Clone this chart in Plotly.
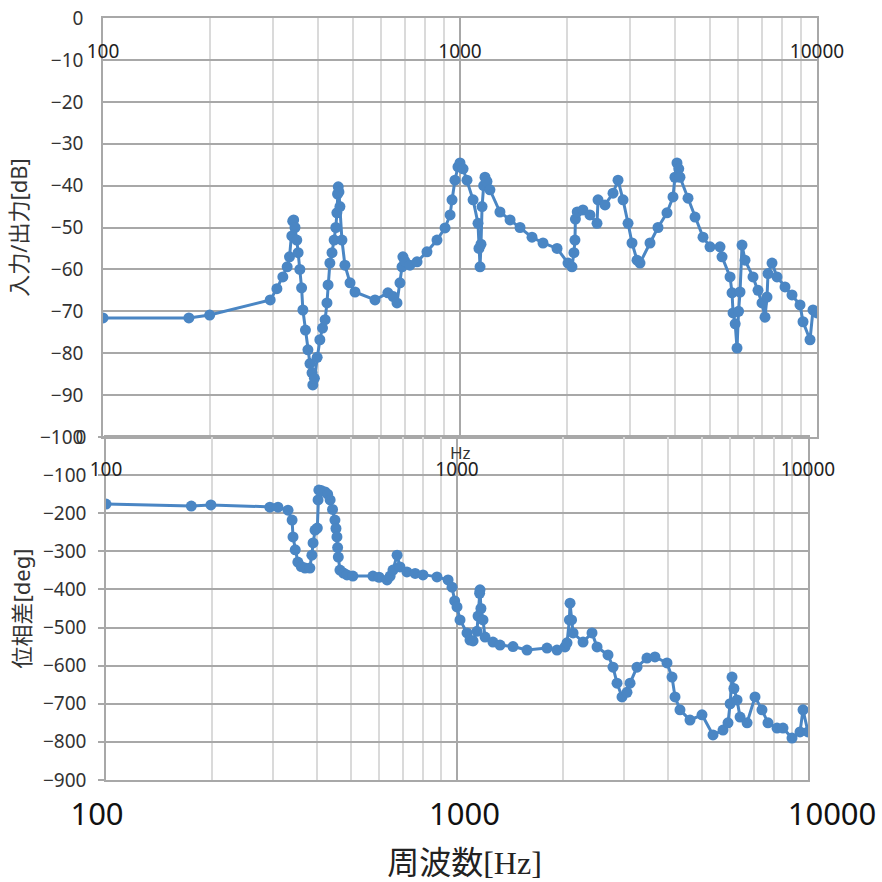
import plotly.graph_objects as go

# ---------------- data ----------------
mag_freq = [100, 174, 199, 294, 307, 319, 328, 333, 338, 340, 342, 345, 349, 352, 356, 360, 363,
            369, 375, 380, 385, 387, 391, 398, 405, 412, 419, 424, 427, 432, 438, 444, 449, 452,
            454, 456, 458, 461, 467, 476, 492, 508, 578, 628, 650, 666, 679, 688, 692, 700, 724,
            758, 808, 862, 908, 938, 950, 968, 987, 1000, 1020, 1046, 1088, 1123, 1130, 1138,
            1145, 1153, 1165, 1175, 1190, 1213, 1294, 1381, 1473, 1591, 1708, 1870, 2007, 2059,
            2085, 2099, 2105, 2130, 2210, 2312, 2420, 2436, 2548, 2683, 2771, 2862, 2956, 3033,
            3132, 3193, 3406, 3586, 3800, 3950, 4000, 4053, 4100, 4132, 4352, 4553, 4794, 5015,
            5350, 5420, 5707, 5781, 5819, 5900, 5970, 6030, 6087, 6166, 6286, 6619, 6836, 7014,
            7151, 7244, 7291, 7482, 7727, 8135, 8511, 8963, 9138, 9559, 9746, 10000]
mag_db = [-71.6, -71.6, -70.9, -67.3, -64.6, -61.8, -59.4, -57, -52, -48.5, -48.2, -50, -53, -56,
          -60, -64.4, -69.7, -74.5, -79.2, -82.5, -84.7, -87.6, -86, -81, -76.8, -74, -72, -68,
          -63.7, -58.5, -56, -53, -50, -46.5, -42, -40.3, -41.5, -45, -53, -59, -63.2, -65.4,
          -67.3, -65.6, -66.5, -68, -63.2, -59.4, -57, -58, -59, -58.2, -55.8, -53, -50.1, -47,
          -43.4, -38.7, -35.5, -34.6, -36, -38.7, -43.4, -49, -55, -59.4, -54, -45, -40, -38,
          -39, -41, -46.3, -48.2, -50, -52.3, -53.7, -55, -58.5, -59.4, -56, -53, -48, -46.3,
          -45.8, -47, -49, -43.4, -44.6, -41.8, -38.7, -43.4, -49, -53.7, -57.8, -58.5, -53.7,
          -50, -46.5, -42.7, -38, -34.6, -36, -38, -43, -47.5, -52.3, -54.6, -54.6, -57, -61.8,
          -65.6, -70.4, -73, -78.8, -70, -65.4, -54.2, -57.8, -61.8, -65, -68, -71.4, -66.6,
          -61, -58.5, -61.8, -64.2, -66.1, -68.5, -72.5, -76.8, -69.7, -70.4]

ph_freq = [100, 175, 199, 293, 309, 330, 339, 341, 346, 352, 360, 369, 381, 386, 389, 394, 400,
           402, 404, 410, 421, 428, 435, 442, 449, 452, 455, 457, 459, 464, 475, 486, 505, 576,
           600, 632, 645, 657, 675, 688, 720, 760, 800, 877, 943, 968, 985, 1000, 1020, 1068,
           1089, 1111, 1140, 1148, 1160, 1163, 1170, 1186, 1202, 1266, 1326, 1444, 1583, 1805,
           1927, 2031, 2058, 2090, 2099, 2120, 2141, 2286, 2425, 2506, 2693, 2783, 2857, 2952,
           3050, 3112, 3257, 3477, 3664, 3965, 4098, 4180, 4318, 4611, 4989, 5362, 5726, 5917,
           6000, 6075, 6150, 6278, 6404, 6705, 7064, 7394, 7691, 8161, 8487, 9004, 9489, 9678,
           10000]
ph_deg = [-176, -181, -178, -184, -184, -192, -218, -262, -296, -328, -340, -344, -344, -310,
          -278, -244, -239, -165, -139, -140, -144, -150, -165, -190, -218, -240, -262, -290,
          -315, -349, -357, -362, -365, -365, -368, -375, -365, -349, -310, -341, -354, -358,
          -362, -367, -375, -394, -430, -446, -480, -514, -533, -535, -510, -470, -410, -401,
          -450, -480, -525, -538, -546, -550, -559, -554, -559, -551, -540, -480, -436, -480,
          -514, -538, -514, -551, -572, -604, -646, -682, -670, -646, -604, -580, -577, -593,
          -630, -682, -716, -743, -729, -782, -769, -750, -700, -630, -660, -690, -735, -750,
          -682, -716, -750, -764, -764, -790, -774, -716, -774]

x_tick_vals = [100, 1000, 10000]
x_tick_text = ["100", "1000", "10000"]
x_minor_vals = [200, 300, 400, 500, 600, 700, 800, 900,
                2000, 3000, 4000, 5000, 6000, 7000, 8000, 9000]
mag_tick_vals = [0, -10, -20, -30, -40, -50, -60, -70, -80, -90, -100]
ph_tick_vals = [0, -100, -200, -300, -400, -500, -600, -700, -800, -900]

mag_title = "入力/出力[dB]"
ph_title = "位相差[deg]"
freq_title = "周波数[Hz]"
hz_label = "Hz"

# ---------------- style ----------------
W = H = 882
BLUE = "#4A86C4"
GRID = "#a8a8a8"
MINOR = "#dadada"
FONT = "Noto Sans, Noto Sans CJK JP, sans-serif"
TXT = "#333333"


def px_x(p):
    return p / W


def px_y(p):
    return 1 - p / H


fig = go.Figure()
fig.add_trace(go.Scatter(x=mag_freq, y=mag_db, xaxis="x", yaxis="y", mode="lines+markers",
                         line=dict(color=BLUE, width=3), marker=dict(color=BLUE, size=11),
                         showlegend=False, hoverinfo="skip"))
fig.add_trace(go.Scatter(x=ph_freq, y=ph_deg, xaxis="x2", yaxis="y2", mode="lines+markers",
                         line=dict(color=BLUE, width=3), marker=dict(color=BLUE, size=11),
                         showlegend=False, hoverinfo="skip"))
# carriers for the label-only axes
for xa, ya in (("x3", "y3"), ("x4", "y"), ("x5", "y2")):
    fig.add_trace(go.Scatter(x=[100, 10000], y=[None, None], xaxis=xa, yaxis=ya, mode="markers",
                             showlegend=False, hoverinfo="skip"))

grid_x = dict(type="log", range=[2, 4], tickmode="array", tickvals=x_tick_vals,
              showticklabels=False, ticks="", showgrid=True, gridcolor=GRID, gridwidth=1.5,
              minor=dict(tickvals=x_minor_vals, showgrid=True, gridcolor=MINOR, gridwidth=1.5,
                         ticks=""),
              showline=True, mirror=True, linecolor=GRID, linewidth=1.5,
              zeroline=False, automargin=False)

label_x = dict(type="log", range=[2, 4], tickmode="array", tickvals=x_tick_vals,
               ticktext=x_tick_text, side="bottom", anchor="free", showgrid=False,
               showline=False, zeroline=False, ticks="",
               tickfont=dict(size=19, color="#222", family=FONT), automargin=False)

fig.update_layout(
    width=W, height=H, margin=dict(l=0, r=0, t=0, b=0),
    paper_bgcolor="white", plot_bgcolor="white",
    font=dict(family=FONT, color=TXT),
    xaxis=dict(domain=[px_x(103), px_x(817)], anchor="y", side="top", **grid_x),
    xaxis4=dict(overlaying="x", position=px_y(38), **label_x),
    yaxis=dict(domain=[px_y(437), px_y(18)], anchor="x", range=[-100.02, 0.02],
               tickmode="array", tickvals=mag_tick_vals,
               showgrid=True, gridcolor=GRID, gridwidth=2, zeroline=False,
               showline=True, mirror=True, linecolor=GRID, linewidth=1.5, ticks="",
               tickfont=dict(size=19, color=TXT, family=FONT), ticklabelstandoff=14,
               title=dict(text=mag_title, font=dict(size=22, color=TXT, family=FONT), standoff=6),
               automargin=False),
    xaxis2=dict(domain=[px_x(106), px_x(808)], anchor="y2", side="top", **grid_x),
    xaxis5=dict(overlaying="x2", position=px_y(456), **label_x),
    yaxis2=dict(domain=[px_y(780), px_y(437)], anchor="x2", range=[-900.2, 0.2],
                tickmode="array", tickvals=ph_tick_vals,
                showgrid=True, gridcolor=GRID, gridwidth=2, zeroline=False,
                showline=True, mirror=True, linecolor=GRID, linewidth=1.5,
                ticks="outside", ticklen=6, tickcolor=GRID, tickwidth=1.5,
                tickfont=dict(size=19, color=TXT, family=FONT), ticklabelstandoff=8,
                title=dict(text=ph_title, font=dict(size=22, color=TXT, family=FONT), standoff=6),
                automargin=False),
    xaxis3=dict(domain=[px_x(97), px_x(832)], anchor="y3", type="log", range=[2, 4],
                tickmode="array", tickvals=x_tick_vals, ticktext=x_tick_text, side="bottom",
                showgrid=False, showline=False, zeroline=False, ticks="",
                tickfont=dict(size=31, color="#111", family=FONT),
                title=dict(text=freq_title,
                           font=dict(size=32, color="#222",
                                     family="Liberation Serif, Noto Sans CJK JP, serif"),
                           standoff=18),
                automargin=False),
    yaxis3=dict(domain=[px_y(793), px_y(788)], anchor="x3", visible=False, showgrid=False),
    annotations=[dict(text=hz_label, xref="paper", yref="paper", x=px_x(460), y=px_y(452),
                      showarrow=False, font=dict(size=17, color=TXT, family=FONT))],
)

fig.write_html("out.html", config={"displayModeBar": False})
